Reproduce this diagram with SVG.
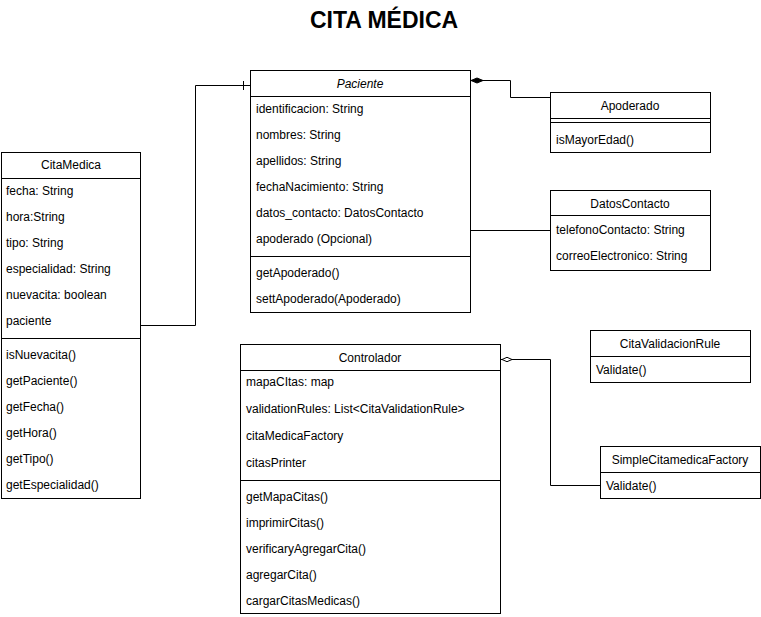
<svg xmlns="http://www.w3.org/2000/svg" width="761" height="617" viewBox="0 0 761 617">
<style>
  .box { fill: #ffffff; stroke: #000000; stroke-width: 1; }
  .sep { stroke: #000000; stroke-width: 1; fill: none; }
  .conn { stroke: #000000; stroke-width: 1; fill: none; }
  text { font-family: "Liberation Sans", Arial, Helvetica, sans-serif; font-size: 12px; fill: #000000; }
  .hdr { text-anchor: middle; }
  .title { font-size: 23px; font-weight: bold; text-anchor: middle; }
</style>
<defs>
  <marker id="diamondFilled" viewBox="0 0 12 8" refX="12" refY="4" markerWidth="12" markerHeight="8" markerUnits="userSpaceOnUse" orient="auto-start-reverse">
    <path d="M0,4 L6,1.5 L12,4 L6,6.5 Z" fill="#000000" stroke="#000000" stroke-width="1"/>
  </marker>
  <marker id="diamondOpen" viewBox="0 0 12 8" refX="12" refY="4" markerWidth="12" markerHeight="8" markerUnits="userSpaceOnUse" orient="auto-start-reverse">
    <path d="M1,4 L6,1.8 L11,4 L6,6.2 Z" fill="#ffffff" stroke="#000000" stroke-width="1"/>
  </marker>
</defs>
<rect x="0" y="0" width="761" height="617" fill="#ffffff"/>
<text class="title" x="384" y="28">CITA MÉDICA</text>

<g id="CitaMedica">
  <rect class="box" x="1.5" y="152.5" width="139" height="346"/>
  <line class="sep" x1="1.5" y1="178.5" x2="140.5" y2="178.5"/>
  <text class="hdr" x="71" y="169">CitaMedica</text>
  <text x="6" y="195">fecha: String</text>
  <text x="6" y="221">hora:String</text>
  <text x="6" y="247">tipo: String</text>
  <text x="6" y="273">especialidad: String</text>
  <text x="6" y="299">nuevacita: boolean</text>
  <text x="6" y="325">paciente</text>
  <line class="sep" x1="1.5" y1="338.5" x2="140.5" y2="338.5"/>
  <text x="6" y="359">isNuevacita()</text>
  <text x="6" y="385">getPaciente()</text>
  <text x="6" y="411">getFecha()</text>
  <text x="6" y="437">getHora()</text>
  <text x="6" y="463">getTipo()</text>
  <text x="6" y="489">getEspecialidad()</text>
</g>

<g id="Paciente">
  <rect class="box" x="250.5" y="70.5" width="220" height="242"/>
  <line class="sep" x1="250.5" y1="96.5" x2="470.5" y2="96.5"/>
  <text class="hdr" x="360" y="88" font-style="italic">Paciente</text>
  <text x="256" y="113">identificacion: String</text>
  <text x="256" y="139">nombres: String</text>
  <text x="256" y="165">apellidos: String</text>
  <text x="256" y="191">fechaNacimiento: String</text>
  <text x="256" y="217">datos_contacto: DatosContacto</text>
  <text x="256" y="243">apoderado (Opcional)</text>
  <line class="sep" x1="250.5" y1="256.5" x2="470.5" y2="256.5"/>
  <text x="256" y="277">getApoderado()</text>
  <text x="256" y="303">settApoderado(Apoderado)</text>
</g>

<g id="Apoderado">
  <rect class="box" x="550.5" y="92.5" width="160" height="60"/>
  <line class="sep" x1="550.5" y1="118.5" x2="710.5" y2="118.5"/>
  <line class="sep" x1="550.5" y1="122.5" x2="710.5" y2="122.5"/>
  <text class="hdr" x="630" y="110">Apoderado</text>
  <text x="556" y="144">isMayorEdad()</text>
</g>

<g id="DatosContacto">
  <rect class="box" x="550.5" y="190.5" width="160" height="80"/>
  <line class="sep" x1="550.5" y1="215.5" x2="710.5" y2="215.5"/>
  <text class="hdr" x="630" y="208">DatosContacto</text>
  <text x="556" y="234">telefonoContacto: String</text>
  <text x="556" y="260">correoElectronico: String</text>
</g>

<g id="CitaValidacionRule">
  <rect class="box" x="590.5" y="330.5" width="160" height="52"/>
  <line class="sep" x1="590.5" y1="356.5" x2="750.5" y2="356.5"/>
  <text class="hdr" x="670" y="348">CitaValidacionRule</text>
  <text x="596" y="374">Validate()</text>
</g>

<g id="SimpleCitamedicaFactory">
  <rect class="box" x="600.5" y="446.5" width="160" height="52"/>
  <line class="sep" x1="600.5" y1="472.5" x2="760.5" y2="472.5"/>
  <text class="hdr" x="680" y="464">SimpleCitamedicaFactory</text>
  <text x="606" y="490">Validate()</text>
</g>

<g id="Controlador">
  <rect class="box" x="240.5" y="344.5" width="260" height="269"/>
  <line class="sep" x1="240.5" y1="370.5" x2="500.5" y2="370.5"/>
  <text class="hdr" x="370" y="362">Controlador</text>
  <text x="246" y="386">mapaCItas: map</text>
  <text x="246" y="413">validationRules: List&lt;CitaValidationRule&gt;</text>
  <text x="246" y="440">citaMedicaFactory</text>
  <text x="246" y="467">citasPrinter</text>
  <line class="sep" x1="240.5" y1="480.5" x2="500.5" y2="480.5"/>
  <text x="246" y="501">getMapaCitas()</text>
  <text x="246" y="527">imprimirCitas()</text>
  <text x="246" y="553">verificaryAgregarCita()</text>
  <text x="246" y="579">agregarCita()</text>
  <text x="246" y="605">cargarCitasMedicas()</text>
</g>

<g id="connectors">
  <!-- CitaMedica.paciente -> Paciente -->
  <polyline class="conn" points="140.5,325.5 195.5,325.5 195.5,85.5 250.5,85.5"/>
  <line class="conn" x1="243.5" y1="81" x2="243.5" y2="90"/>
  <!-- Paciente composition Apoderado -->
  <polyline class="conn" points="471,80.5 510.5,80.5 510.5,97.5 550.5,97.5" marker-start="url(#diamondFilled)"/>
  <!-- Paciente - DatosContacto -->
  <line class="conn" x1="470.5" y1="230.5" x2="550.5" y2="230.5"/>
  <!-- Controlador aggregation SimpleCitamedicaFactory -->
  <polyline class="conn" points="501,359.5 550.5,359.5 550.5,485.5 600.5,485.5" marker-start="url(#diamondOpen)"/>
</g>
</svg>
